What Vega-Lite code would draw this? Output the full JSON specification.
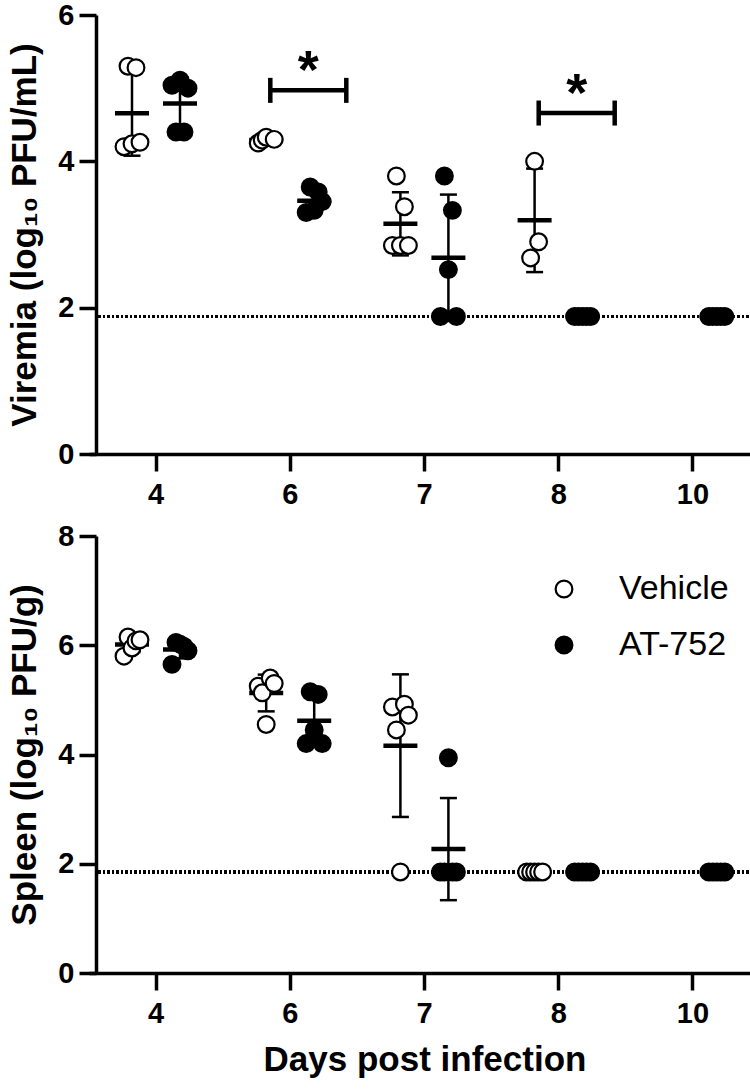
{
  "$schema": "https://vega.github.io/schema/vega-lite/v6.json",
  "background": "white",
  "padding": {"left": 7, "top": 1, "right": 0, "bottom": 4},
  "spacing": 82,
  "bounds": "flush",
  "datasets": {
    "viremia": [
      {"day": 4, "group": "Vehicle", "mouse": "V2", "v": 5.30},
      {"day": 4, "group": "Vehicle", "mouse": "V4", "v": 5.28},
      {"day": 4, "group": "Vehicle", "mouse": "V1", "v": 4.20},
      {"day": 4, "group": "Vehicle", "mouse": "V3", "v": 4.24},
      {"day": 4, "group": "Vehicle", "mouse": "V5", "v": 4.26},
      {"day": 4, "group": "AT-752", "mouse": "A1", "v": 5.04},
      {"day": 4, "group": "AT-752", "mouse": "A3", "v": 5.11},
      {"day": 4, "group": "AT-752", "mouse": "A5", "v": 5.00},
      {"day": 4, "group": "AT-752", "mouse": "A2", "v": 4.40},
      {"day": 4, "group": "AT-752", "mouse": "A4", "v": 4.40},
      {"day": 6, "group": "Vehicle", "mouse": "V1", "v": 4.25},
      {"day": 6, "group": "Vehicle", "mouse": "V2", "v": 4.29},
      {"day": 6, "group": "Vehicle", "mouse": "V3", "v": 4.33},
      {"day": 6, "group": "Vehicle", "mouse": "V5", "v": 4.30},
      {"day": 6, "group": "AT-752", "mouse": "A2", "v": 3.65},
      {"day": 6, "group": "AT-752", "mouse": "A4", "v": 3.58},
      {"day": 6, "group": "AT-752", "mouse": "A5", "v": 3.45},
      {"day": 6, "group": "AT-752", "mouse": "A1", "v": 3.30},
      {"day": 6, "group": "AT-752", "mouse": "A3", "v": 3.33},
      {"day": 7, "group": "Vehicle", "mouse": "V2", "v": 3.80},
      {"day": 7, "group": "Vehicle", "mouse": "V4", "v": 3.38},
      {"day": 7, "group": "Vehicle", "mouse": "V1", "v": 2.85},
      {"day": 7, "group": "Vehicle", "mouse": "V3", "v": 2.85},
      {"day": 7, "group": "Vehicle", "mouse": "V5", "v": 2.85},
      {"day": 7, "group": "AT-752", "mouse": "A2", "v": 3.80},
      {"day": 7, "group": "AT-752", "mouse": "A4", "v": 3.33},
      {"day": 7, "group": "AT-752", "mouse": "A3", "v": 2.52},
      {"day": 7, "group": "AT-752", "mouse": "A1", "v": 1.88},
      {"day": 7, "group": "AT-752", "mouse": "A5", "v": 1.88},
      {"day": 8, "group": "Vehicle", "mouse": "V3", "v": 4.00},
      {"day": 8, "group": "Vehicle", "mouse": "V4", "v": 2.90},
      {"day": 8, "group": "Vehicle", "mouse": "V2", "v": 2.68},
      {"day": 8, "group": "AT-752", "mouse": "A1", "v": 1.88},
      {"day": 8, "group": "AT-752", "mouse": "A2", "v": 1.88},
      {"day": 8, "group": "AT-752", "mouse": "A3", "v": 1.88},
      {"day": 8, "group": "AT-752", "mouse": "A4", "v": 1.88},
      {"day": 8, "group": "AT-752", "mouse": "A5", "v": 1.88},
      {"day": 10, "group": "AT-752", "mouse": "A1", "v": 1.88},
      {"day": 10, "group": "AT-752", "mouse": "A2", "v": 1.88},
      {"day": 10, "group": "AT-752", "mouse": "A3", "v": 1.88},
      {"day": 10, "group": "AT-752", "mouse": "A4", "v": 1.88},
      {"day": 10, "group": "AT-752", "mouse": "A5", "v": 1.88}
    ],
    "spleen": [
      {"day": 4, "group": "Vehicle", "mouse": "V1", "v": 5.80},
      {"day": 4, "group": "Vehicle", "mouse": "V2", "v": 6.15},
      {"day": 4, "group": "Vehicle", "mouse": "V3", "v": 5.95},
      {"day": 4, "group": "Vehicle", "mouse": "V4", "v": 6.08},
      {"day": 4, "group": "Vehicle", "mouse": "V5", "v": 6.10},
      {"day": 4, "group": "AT-752", "mouse": "A1", "v": 5.65},
      {"day": 4, "group": "AT-752", "mouse": "A2", "v": 6.05},
      {"day": 4, "group": "AT-752", "mouse": "A3", "v": 6.02},
      {"day": 4, "group": "AT-752", "mouse": "A4", "v": 5.98},
      {"day": 4, "group": "AT-752", "mouse": "A5", "v": 5.90},
      {"day": 6, "group": "Vehicle", "mouse": "V1", "v": 5.25},
      {"day": 6, "group": "Vehicle", "mouse": "V2", "v": 5.13},
      {"day": 6, "group": "Vehicle", "mouse": "V3", "v": 4.55},
      {"day": 6, "group": "Vehicle", "mouse": "V4", "v": 5.40},
      {"day": 6, "group": "Vehicle", "mouse": "V5", "v": 5.30},
      {"day": 6, "group": "AT-752", "mouse": "A1", "v": 4.20},
      {"day": 6, "group": "AT-752", "mouse": "A2", "v": 5.15},
      {"day": 6, "group": "AT-752", "mouse": "A3", "v": 4.45},
      {"day": 6, "group": "AT-752", "mouse": "A4", "v": 5.10},
      {"day": 6, "group": "AT-752", "mouse": "A5", "v": 4.20},
      {"day": 7, "group": "Vehicle", "mouse": "V1", "v": 4.87},
      {"day": 7, "group": "Vehicle", "mouse": "V2", "v": 4.45},
      {"day": 7, "group": "Vehicle", "mouse": "V3", "v": 1.85},
      {"day": 7, "group": "Vehicle", "mouse": "V4", "v": 4.92},
      {"day": 7, "group": "Vehicle", "mouse": "V5", "v": 4.72},
      {"day": 7, "group": "AT-752", "mouse": "A1", "v": 1.85},
      {"day": 7, "group": "AT-752", "mouse": "A2", "v": 1.85},
      {"day": 7, "group": "AT-752", "mouse": "A3", "v": 3.94},
      {"day": 7, "group": "AT-752", "mouse": "A4", "v": 1.85},
      {"day": 7, "group": "AT-752", "mouse": "A5", "v": 1.85},
      {"day": 8, "group": "Vehicle", "mouse": "V1", "v": 1.85},
      {"day": 8, "group": "Vehicle", "mouse": "V2", "v": 1.85},
      {"day": 8, "group": "Vehicle", "mouse": "V3", "v": 1.85},
      {"day": 8, "group": "Vehicle", "mouse": "V4", "v": 1.85},
      {"day": 8, "group": "Vehicle", "mouse": "V5", "v": 1.85},
      {"day": 8, "group": "AT-752", "mouse": "A1", "v": 1.85},
      {"day": 8, "group": "AT-752", "mouse": "A2", "v": 1.85},
      {"day": 8, "group": "AT-752", "mouse": "A3", "v": 1.85},
      {"day": 8, "group": "AT-752", "mouse": "A4", "v": 1.85},
      {"day": 8, "group": "AT-752", "mouse": "A5", "v": 1.85},
      {"day": 10, "group": "AT-752", "mouse": "A1", "v": 1.85},
      {"day": 10, "group": "AT-752", "mouse": "A2", "v": 1.85},
      {"day": 10, "group": "AT-752", "mouse": "A3", "v": 1.85},
      {"day": 10, "group": "AT-752", "mouse": "A4", "v": 1.85},
      {"day": 10, "group": "AT-752", "mouse": "A5", "v": 1.85}
    ],
    "brackets": [
      {"day": 6, "y": 4.97},
      {"day": 8, "y": 4.66}
    ]
  },
  "resolve": {"scale": {"x": "independent", "y": "independent", "fill": "independent", "xOffset": "independent"}},
  "vconcat": [
    {
      "width": 657,
      "height": 439,
      "data": {"name": "viremia"},
      "layer": [
        {
          "mark": {"type": "rule", "strokeDash": [2, 2.5], "strokeWidth": 2.5, "color": "black"},
          "encoding": {"y": {"datum": 1.88, "type": "quantitative", "scale": {"domain": [0, 6], "nice": false}}}
        },
        {
          "transform": [
            {"aggregate": [{"op": "mean", "field": "v", "as": "m"}, {"op": "stdev", "field": "v", "as": "s"}], "groupby": ["day", "group"]},
            {"calculate": "datum.m - datum.s", "as": "lo"},
            {"calculate": "datum.m + datum.s", "as": "hi"},
            {"calculate": "datum.group == 'Vehicle' ? 'V3' : 'A3'", "as": "mouse"}
          ],
          "layer": [
            {
              "mark": {"type": "rule", "strokeWidth": 2.5, "color": "black"},
              "encoding": {
                "x": {"field": "day", "type": "ordinal", "scale": {"type": "band", "domain": [4, 6, 7, 8, 10], "range": [-7, 664], "paddingInner": 0, "paddingOuter": 0}, "axis": {"title": null}},
                "xOffset": {"field": "mouse", "type": "nominal", "scale": {"type": "point", "padding": 0, "domain": ["V1","V2","V3","V4","V5","g1","g2","g3","g4","g5","g6","g7","A1","A2","A3","A4","A5"], "range": [35, 99]}},
                "y": {"field": "lo", "type": "quantitative", "scale": {"domain": [0, 6], "nice": false}, "axis": {"values": [0, 2, 4, 6], "format": "d", "title": "Viremia (log₁₀ PFU/mL)"}},
                "y2": {"field": "hi"}
              }
            },
            {
              "transform": [{"fold": ["lo", "hi"], "as": ["k", "b"]}],
              "mark": {"type": "tick", "size": 17, "thickness": 2.5, "color": "black", "opacity": 1},
              "encoding": {
                "x": {"field": "day", "type": "ordinal"},
                "xOffset": {"field": "mouse", "type": "nominal"},
                "y": {"field": "b", "type": "quantitative"}
              }
            },
            {
              "mark": {"type": "tick", "size": 34, "thickness": 4.5, "color": "black", "opacity": 1},
              "encoding": {
                "x": {"field": "day", "type": "ordinal"},
                "xOffset": {"field": "mouse", "type": "nominal"},
                "y": {"field": "m", "type": "quantitative"}
              }
            }
          ]
        },
        {
          "mark": {"type": "point", "shape": "circle", "filled": true, "size": 280, "stroke": "black", "strokeWidth": 2.2, "opacity": 1},
          "encoding": {
            "x": {"field": "day", "type": "ordinal"},
            "xOffset": {"field": "mouse", "type": "nominal"},
            "y": {"field": "v", "type": "quantitative"},
            "fill": {"field": "group", "type": "nominal", "scale": {"domain": ["Vehicle", "AT-752"], "range": ["white", "black"]}, "legend": null}
          }
        },
        {
          "data": {"name": "brackets"},
          "mark": {"type": "tick", "size": 78, "thickness": 4.5, "xOffset": 18, "color": "black", "opacity": 1},
          "encoding": {
            "x": {"field": "day", "type": "ordinal"},
            "y": {"field": "y", "type": "quantitative"}
          }
        },
        {
          "data": {"name": "brackets"},
          "mark": {"type": "tick", "orient": "vertical", "size": 25, "thickness": 4.5, "xOffset": -20, "color": "black", "opacity": 1},
          "encoding": {
            "x": {"field": "day", "type": "ordinal"},
            "y": {"field": "y", "type": "quantitative"}
          }
        },
        {
          "data": {"name": "brackets"},
          "mark": {"type": "tick", "orient": "vertical", "size": 25, "thickness": 4.5, "xOffset": 56, "color": "black", "opacity": 1},
          "encoding": {
            "x": {"field": "day", "type": "ordinal"},
            "y": {"field": "y", "type": "quantitative"}
          }
        },
        {
          "data": {"name": "brackets"},
          "mark": {"type": "text", "text": "*", "font": "Liberation Sans", "fontSize": 54, "fontWeight": "bold", "xOffset": 18, "dy": -2, "baseline": "alphabetic", "align": "center", "color": "black"},
          "encoding": {
            "x": {"field": "day", "type": "ordinal"},
            "y": {"field": "y", "type": "quantitative"}
          }
        }
      ]
    },
    {
      "width": 657,
      "height": 437,
      "data": {"name": "spleen"},
      "layer": [
        {
          "mark": {"type": "rule", "strokeDash": [2, 2.5], "strokeWidth": 2.5, "color": "black"},
          "encoding": {"y": {"datum": 1.85, "type": "quantitative", "scale": {"domain": [0, 8], "nice": false}}}
        },
        {
          "transform": [
            {"aggregate": [{"op": "mean", "field": "v", "as": "m"}, {"op": "stdev", "field": "v", "as": "s"}], "groupby": ["day", "group"]},
            {"calculate": "datum.m - datum.s", "as": "lo"},
            {"calculate": "datum.m + datum.s", "as": "hi"},
            {"calculate": "datum.group == 'Vehicle' ? 'V3' : 'A3'", "as": "mouse"}
          ],
          "layer": [
            {
              "mark": {"type": "rule", "strokeWidth": 2.5, "color": "black"},
              "encoding": {
                "x": {"field": "day", "type": "ordinal", "scale": {"type": "band", "domain": [4, 6, 7, 8, 10], "range": [-7, 664], "paddingInner": 0, "paddingOuter": 0}, "axis": {"title": "Days post infection"}},
                "xOffset": {"field": "mouse", "type": "nominal", "scale": {"type": "point", "padding": 0, "domain": ["V1","V2","V3","V4","V5","g1","g2","g3","g4","g5","g6","g7","A1","A2","A3","A4","A5"], "range": [35, 99]}},
                "y": {"field": "lo", "type": "quantitative", "scale": {"domain": [0, 8], "nice": false}, "axis": {"values": [0, 2, 4, 6, 8], "format": "d", "title": "Spleen (log₁₀ PFU/g)"}},
                "y2": {"field": "hi"}
              }
            },
            {
              "transform": [{"fold": ["lo", "hi"], "as": ["k", "b"]}],
              "mark": {"type": "tick", "size": 17, "thickness": 2.5, "color": "black", "opacity": 1},
              "encoding": {
                "x": {"field": "day", "type": "ordinal"},
                "xOffset": {"field": "mouse", "type": "nominal"},
                "y": {"field": "b", "type": "quantitative"}
              }
            },
            {
              "mark": {"type": "tick", "size": 34, "thickness": 4.5, "color": "black", "opacity": 1},
              "encoding": {
                "x": {"field": "day", "type": "ordinal"},
                "xOffset": {"field": "mouse", "type": "nominal"},
                "y": {"field": "m", "type": "quantitative"}
              }
            }
          ]
        },
        {
          "mark": {"type": "point", "shape": "circle", "filled": true, "size": 280, "stroke": "black", "strokeWidth": 2.2, "opacity": 1},
          "encoding": {
            "x": {"field": "day", "type": "ordinal"},
            "xOffset": {"field": "mouse", "type": "nominal"},
            "y": {"field": "v", "type": "quantitative"},
            "fill": {
              "field": "group", "type": "nominal",
              "scale": {"domain": ["Vehicle", "AT-752"], "range": ["white", "black"]},
              "legend": {"title": null, "orient": "none", "legendX": 451, "legendY": 36, "symbolType": "circle", "symbolSize": 280, "symbolStrokeColor": "black", "symbolStrokeWidth": 2.2, "labelFont": "Liberation Sans", "labelFontSize": 34, "labelFontWeight": "normal", "labelColor": "black", "labelOffset": 38, "rowPadding": 22, "padding": 0}
            }
          }
        }
      ]
    }
  ],
  "config": {
    "font": "Liberation Sans",
    "view": {"stroke": null},
    "axis": {
      "grid": false,
      "domainColor": "black",
      "domainWidth": 3.5,
      "tickColor": "black",
      "tickWidth": 3.5,
      "tickSize": 17,
      "labelFont": "Liberation Sans",
      "labelFontWeight": "bold",
      "labelFontSize": 29,
      "labelColor": "black",
      "titleFont": "Liberation Sans",
      "titleFontWeight": "bold",
      "titleFontSize": 35,
      "titleColor": "black"
    },
    "axisX": {"labelAngle": 0, "labelPadding": 9, "titlePadding": 14},
    "axisY": {"labelPadding": 5, "titlePadding": 15}
  }
}
